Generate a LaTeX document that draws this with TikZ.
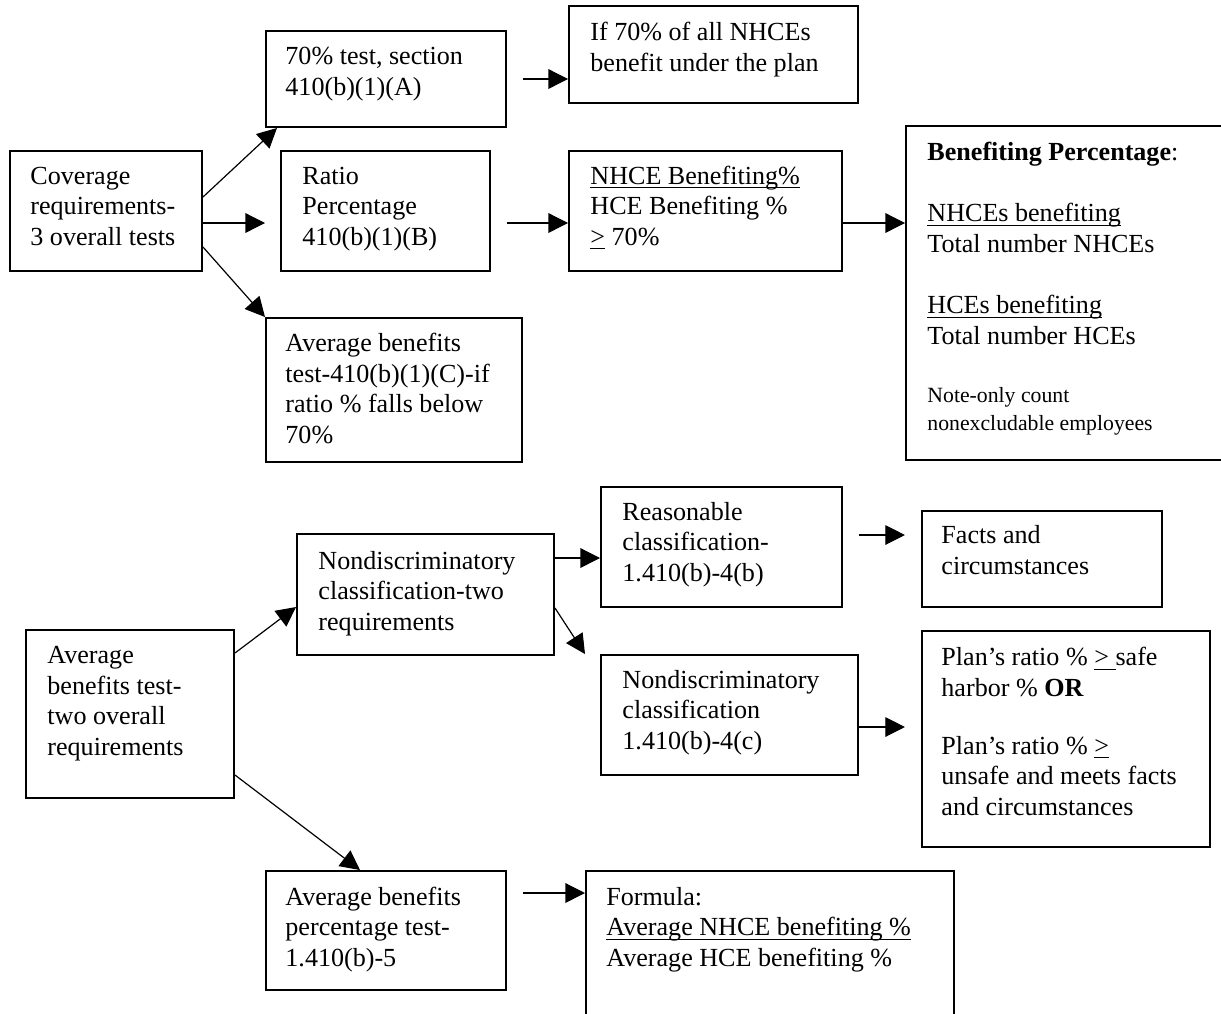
\documentclass[tikz,border=0pt]{standalone}
\usepackage{fontspec}
\setmainfont{Liberation Serif}
\usetikzlibrary{fit,arrows.meta}
\newcommand\myul[1]{\leavevmode\setbox0\hbox{#1}\rlap{\rule[-2pt]{\wd0}{0.6pt}}\box0\relax}
\begin{document}
\begin{tikzpicture}[x=0.46pt,y=-0.46pt,
  box/.style={draw, line width=0.9pt, inner sep=0pt},
  txt/.style={anchor=base west, align=left, inner sep=0pt, font=\fontsize{12}{14}\selectfont},
  small/.style={anchor=base west, align=left, inner sep=0pt, font=\fontsize{10}{12.5}\selectfont},
  arr/.style={line width=0.55pt, -{Triangle[length=9pt,width=9pt]}}]
\useasboundingbox (0,0) rectangle (1221,1013);
\clip (0,0) rectangle (1221,1013);

% top section (text nodes placed by the baseline of their last line)
\node[box, fit={(10,151) (202,271)}] (cov) {};
\node[txt] (cov-t) at (30,245) {Coverage\\requirements-\\3 overall tests};

\node[box, fit={(266,31) (506,127)}] (t70) {};
\node[txt] (t70-t) at (285,95) {70\% test, section\\410(b)(1)(A)};

\node[box, fit={(281,151) (490,271)}] (ratio) {};
\node[txt] (ratio-t) at (302,245) {Ratio\\Percentage\\410(b)(1)(B)};

\node[box, fit={(266,318) (522,462)}] (avgt) {};
\node[txt] (avgt-t) at (285,443) {Average benefits\\test-410(b)(1)(C)-if\\ratio \% falls below\\70\%};

\node[box, fit={(569,6) (858,103)}] (if) {};
\node[txt] (if-t) at (590,71) {If 70\% of all NHCEs\\benefit under the plan};

\node[box, fit={(569,151) (842,271)}] (nhce) {};
\node[txt] (nhce-t) at (590,245) {\myul{NHCE Benefiting\%}\\HCE Benefiting \%\\\myul{>} 70\%};

\node[box, fit={(906,126) (1240,460)}] (ben) {};
\node[txt] (ben-t1) at (927,160) {\textbf{Benefiting Percentage}:};
\node[txt] (ben-t2) at (927,252) {\myul{NHCEs benefiting}\\Total number NHCEs};
\node[txt] (ben-t3) at (927,344) {\myul{HCEs benefiting}\\Total number HCEs};
\node[small] (ben-t4) at (927,430) {Note-only count\\nonexcludable employees};

% bottom section
\node[box, fit={(26,630) (234,798)}] (avg2) {};
\node[txt] (avg2-t) at (47,755) {Average\\benefits test-\\two overall\\requirements};

\node[box, fit={(297,534) (554,655)}] (nd2) {};
\node[txt] (nd2-t) at (318,630) {Nondiscriminatory\\classification-two\\requirements};

\node[box, fit={(601,487) (842,607)}] (reas) {};
\node[txt] (reas-t) at (622,581) {Reasonable\\classification-\\1.410(b)-4(b)};

\node[box, fit={(922,511) (1162,607)}] (facts) {};
\node[txt] (facts-t) at (941,574) {Facts and\\circumstances};

\node[box, fit={(601,655) (858,775)}] (ndc) {};
\node[txt] (ndc-t) at (622,749) {Nondiscriminatory\\classification\\1.410(b)-4(c)};

\node[box, fit={(922,631) (1210,847)}] (plans) {};
\node[txt] (plans-t1) at (941,696) {Plan’s ratio \% \myul{>\ }safe\\harbor \% \textbf{OR}};
\node[txt] (plans-t2) at (941,815) {Plan’s ratio \% \myul{>}\\unsafe and meets facts\\and circumstances};

\node[box, fit={(266,871) (506,990)}] (avgp) {};
\node[txt] (avgp-t) at (285,966) {Average benefits\\percentage test-\\1.410(b)-5};

\node[box, fit={(586,871) (954,1040)}] (form) {};
\node[txt] (form-t) at (606,966) {Formula:\\\myul{Average NHCE benefiting \%}\\Average HCE benefiting \%};

% connectors
\draw[arr] (cov.east |- 0,197) -- (277,0 |- t70.south);
\draw[arr, shorten >=6.9pt] (cov.east |- 0,223) -- (ratio.west |- 0,223);
\draw[arr] (cov.east |- 0,247) -- (avgt.north west);
\draw[arr, shorten <=7.4pt] (t70.east |- 0,79) -- (if.west |- 0,79);
\draw[arr, shorten <=7.4pt] (ratio.east |- 0,223) -- (nhce.west |- 0,223);
\draw[arr] (nhce.east |- 0,223) -- (ben.west |- 0,223);
\draw[arr] (avg2.east |- 0,653) -- (nd2.west |- 0,607);
\draw[arr] (avg2.east |- 0,775) -- (360,0 |- avgp.north);
\draw[arr] (nd2.east |- 0,558) -- (reas.west |- 0,558);
\draw[arr] (nd2.east |- 0,608) -- (585,0 |- ndc.north);
\draw[arr, shorten <=7.4pt, shorten >=7.4pt] (reas.east |- 0,535) -- (facts.west |- 0,535);
\draw[arr, shorten >=7.4pt] (ndc.east |- 0,727) -- (plans.west |- 0,727);
\draw[arr, shorten <=7.4pt] (avgp.east |- 0,893) -- (form.west |- 0,893);
\end{tikzpicture}
\end{document}
